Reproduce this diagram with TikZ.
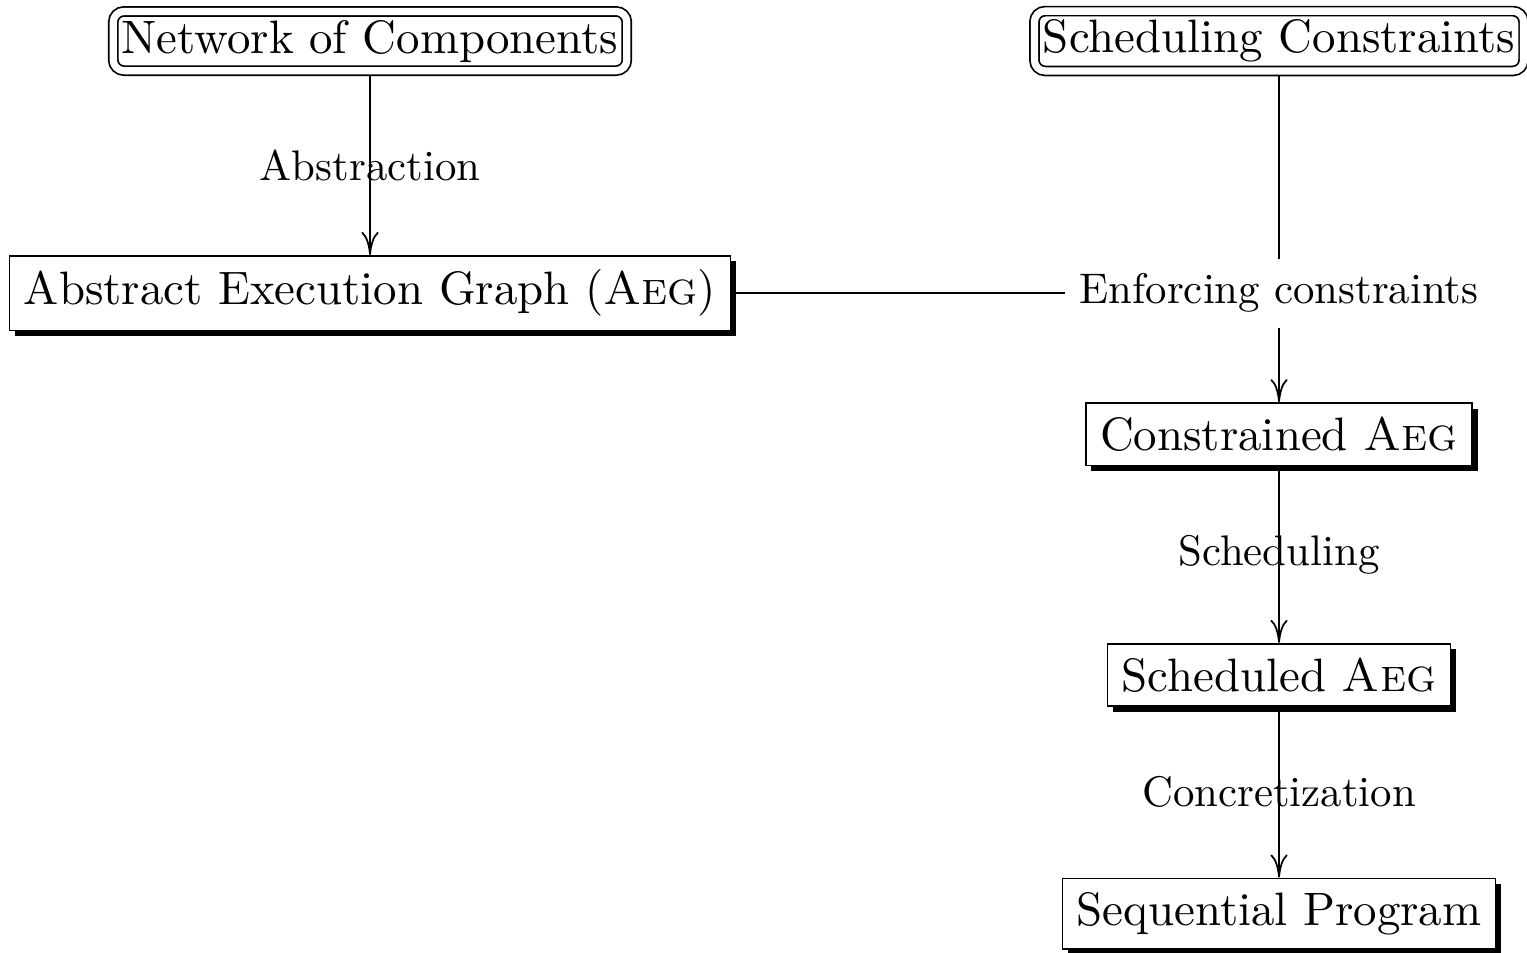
\documentclass[tikz,border=0pt]{standalone}
\usepackage{tikz}
\usetikzlibrary{arrows.meta,positioning,shadows}
\tikzset{
  %Define standard arrow tip
  >={To[length=5.4pt,width=4pt]},
  %Define style for input boxes
  quelle/.style={
    rectangle,
    rounded corners=2.5pt,
    draw=black, thin,
    double, double distance=1.7pt,
    inner sep=2pt,
    outer sep=1.25pt,
    font=\fontsize{10.95}{13}\selectfont},
  %Define style for stage boxes
  stufe/.style={
    rectangle,
    draw=black, thin, fill=white,
    inner ysep=3.25pt,
    drop shadow={shadow xshift=1.3pt, shadow yshift=-1.3pt, fill=black, opacity=1},
    font=\fontsize{10.95}{13}\selectfont},
  % Define arrow style
  pfeil/.style={
    ->,
    thin}
}
\newcommand{\aegname}{\textsc{Aeg}}

\begin{document}
\begin{tikzpicture}[node distance=1.45cm]
  \useasboundingbox (0,0) rectangle (12.537,-7.824);
  \node[quelle] (netz) at (3.038,-0.337) {Network of Components};
  \node[quelle] (vorgaben) at (10.501,-0.337) {Scheduling Constraints};
  \node[stufe, below=1.47cm of netz] (aeg) {Abstract Execution Graph (\aegname)};
  \node[inner sep=3.33pt] (erzwingen) at (vorgaben |- aeg) {Enforcing constraints};
  \node[stufe, below=0.61cm of erzwingen] (beschr) {Constrained \aegname};
  \node[stufe, below=of beschr] (geplant) {Scheduled \aegname};
  \node[stufe, below=1.4cm of geplant] (seq) {Sequential Program};
  \path[pfeil]
  (netz) edge node {Abstraction} (aeg)
  (erzwingen) edge (beschr)
  (beschr) edge node {Scheduling} (geplant)
  (geplant) edge node {Concretization} (seq)
  ;
  \draw (vorgaben) -- (erzwingen);
  \draw (aeg) -- (erzwingen);
\end{tikzpicture}
\end{document}
